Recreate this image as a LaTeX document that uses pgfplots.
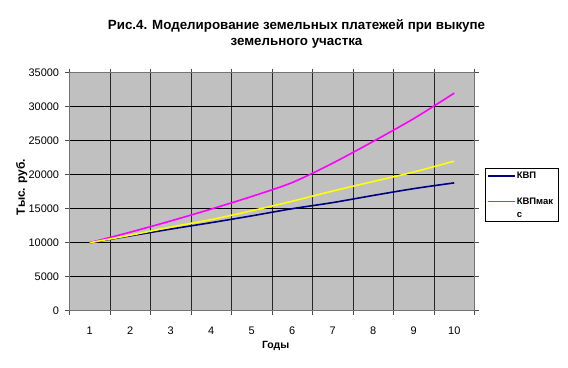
\documentclass[border=0pt]{standalone}
\usepackage{pgfplots}
\pgfplotsset{compat=1.18}
\usepackage{fontspec}
\setmainfont{Liberation Sans}
\definecolor{kvp}{HTML}{000080}
\definecolor{kvpmax}{HTML}{FF00FF}
\definecolor{kvpy}{HTML}{FFFF00}
\definecolor{plotbg}{HTML}{C0C0C0}
\renewcommand{\arraystretch}{1.05}
\pgfplotsset{
  maglegend/.style={legend image code/.code={\draw[##1, line width=1.5bp] (0bp,6.6bp) -- (27bp,6.6bp); \coordinate (maglegbb) at (0bp,-6.6bp);}}
}
\begin{document}
\begin{tikzpicture}
\path[use as bounding box] (0bp,0bp) rectangle (568bp,368bp);
\begin{axis}[
  at={(69.5bp,57.3bp)}, anchor=south west,
  scale only axis, width=405bp, height=238bp,
  xmin=0.5, xmax=10.5, ymin=0, ymax=35000,
  axis background/.style={fill=plotbg},
  xtick={1,...,10},
  minor xtick={0.5,1.5,...,10.5},
  ytick={0,5000,...,35000},
  scaled y ticks=false,
  /pgf/number format/1000 sep={},
  /pgf/number format/assume math mode=true,
  tick align=outside,
  major tick length=4.5bp, minor tick length=4bp,
  major x tick style={draw=none},
  tick style={black!70, line width=0.8bp},
  xminorgrids=true, ymajorgrids=true,
  minor x grid style={black!85, line width=0.8bp},
  major y grid style={black, line width=0.8bp},
  axis line style={draw=black!55, line width=1bp},
  tick label style={font=\fontsize{11}{12}\selectfont, black},
  yticklabel style={xshift=-2.4bp},
  xticklabel style={yshift=-8bp},
  xlabel={Годы},
  xlabel style={font=\fontsize{10.5}{12}\selectfont\bfseries, at={(axis description cs:0.509,-0.16)}, anchor=base},
  ylabel={Тыс. руб.},
  ylabel style={font=\fontsize{12}{12}\selectfont\bfseries, at={(axis description cs:-0.118,0.52)}, anchor=center, rotate=0},
  title={Рис.4. Моделирование земельных платежей при выкупе\\земельного участка},
  title style={font=\fontsize{13.4}{16}\selectfont\bfseries, align=center, at={(axis description cs:0.5605,1.1193)}, anchor=base, yshift=-7bp},
  legend style={at={(1.026,0.598)}, anchor=north west, draw=black, line width=0.6bp, fill=white,
    font=\fontsize{9.5}{12.5}\selectfont\bfseries, row sep=17bp, inner xsep=2bp, inner ysep=2.5bp,
    nodes={text width=38bp, inner sep=1bp}},
  legend cell align=left,
  legend image code/.code={\draw[#1, line width=1.5bp] (0bp,0bp) -- (27bp,0bp);},
]
\addplot[kvp, line width=1.6bp, smooth] coordinates {
 (1,10000) (2,11000) (3,12000) (4,12950) (5,13950) (6,15000) (7,15900) (8,16950) (9,17950) (10,18800)};
\addlegendentry{КВП}
\addplot[kvpmax, line width=1.6bp, smooth, maglegend] coordinates {
 (1,10000) (2,11550) (3,13200) (4,14950) (5,16800) (6,18850) (7,21700) (8,24900) (9,28250) (10,32000)};
\addlegendentry[text height=11.5bp, text depth=6.7bp]{\begin{tabular}{@{}l@{}}КВПмак\\с\end{tabular}}
\addplot[kvpy, line width=1.6bp, smooth, forget plot] coordinates {
 (1,10000) (2,11100) (3,12300) (4,13400) (5,14700) (6,16100) (7,17600) (8,19000) (9,20400) (10,22000)};
\end{axis}
\end{tikzpicture}
\end{document}
